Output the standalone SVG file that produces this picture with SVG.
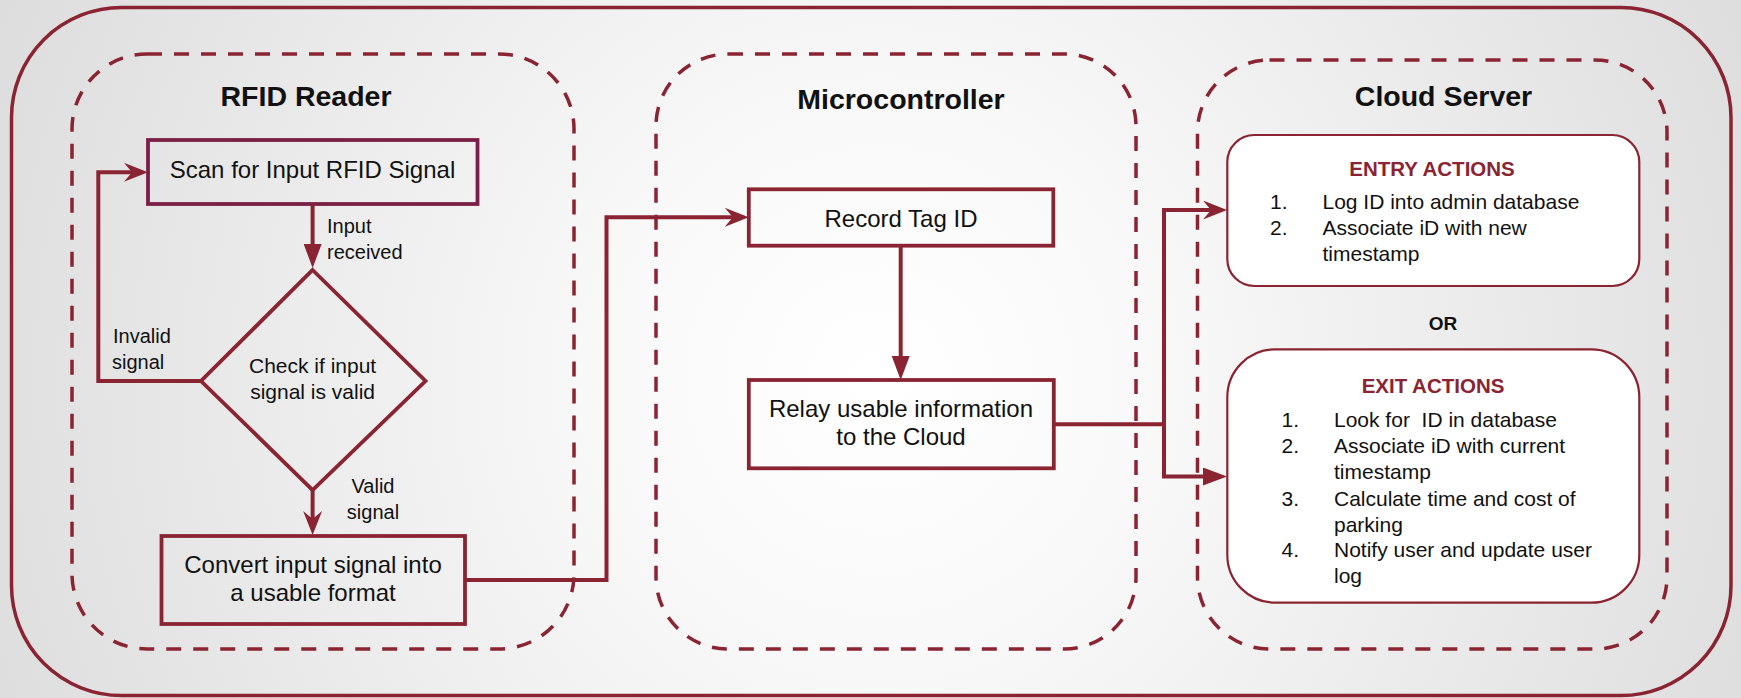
<svg xmlns="http://www.w3.org/2000/svg" width="1741" height="698" viewBox="0 0 1741 698">
<defs>
<radialGradient id="bg" cx="880" cy="380" r="950" gradientUnits="userSpaceOnUse">
<stop offset="0" stop-color="#ffffff"/>
<stop offset="0.3" stop-color="#f8f8f8"/>
<stop offset="1" stop-color="#dddddd"/>
</radialGradient>
<marker id="ac" viewBox="0 0 24 19" refX="14" refY="9.5" markerWidth="24" markerHeight="19" markerUnits="userSpaceOnUse" orient="auto">
<path d="M0,0 L24,9.5 L0,19 L8,9.5 Z" fill="#8a2432"/>
</marker>
<marker id="at" viewBox="0 0 24 18" refX="14" refY="9" markerWidth="24" markerHeight="18" markerUnits="userSpaceOnUse" orient="auto">
<path d="M0,0 L24,9 L0,18 Z" fill="#8a2432"/>
</marker>
<style>
text{font-family:"Liberation Sans",Arial,sans-serif;fill:#111;}
.title{font-size:28.5px;font-weight:bold;text-anchor:middle;}
.lbl{font-size:24px;text-anchor:middle;}
.sm{font-size:20px;}
.dia{font-size:21px;text-anchor:middle;}
.head{font-size:20.5px;font-weight:bold;text-anchor:middle;fill:#8a2432;}
.li{font-size:21px;}
.box{fill:none;stroke:#8a2432;stroke-width:3.8;}
.cont{fill:none;stroke:#8a2432;stroke-width:3.5;stroke-dasharray:15 12;}
.card{fill:#ffffff;stroke:#8a2432;stroke-width:2.2;}
.conn{fill:none;stroke:#8a2432;stroke-width:4;}
</style>
</defs>
<rect x="0" y="0" width="1741" height="698" fill="url(#bg)"/>
<rect id="frame" x="11.5" y="7.5" width="1719.5" height="688" rx="110" fill="none" stroke="#8a2432" stroke-width="3.5"/>

<g id="rfid-reader">
<rect class="cont" x="72" y="54" width="502" height="595" rx="75"/>
<text class="title" x="306" y="106">RFID Reader</text>
</g>
<g id="microcontroller">
<rect class="cont" x="656" y="54" width="480" height="595" rx="72"/>
<text class="title" x="901" y="109">Microcontroller</text>
</g>
<g id="cloud-server">
<rect class="cont" x="1197.5" y="60" width="469.5" height="589" rx="72"/>
<text class="title" x="1443.5" y="106">Cloud Server</text>
</g>

<g id="scan">
<rect class="box" x="148" y="140" width="329.5" height="64" style="stroke:#7a1f48"/>
<text class="lbl" x="312.5" y="178">Scan for Input RFID Signal</text>
</g>
<g id="check">
<polygon class="box" points="312.6,270 425.5,381 312.6,490 201,381"/>
<text class="dia" x="312.6" y="373">Check if input</text>
<text class="dia" x="312.6" y="399">signal is valid</text>
</g>
<g id="convert">
<rect class="box" x="161.5" y="536" width="303.5" height="88"/>
<text class="lbl" x="313" y="573">Convert input signal into</text>
<text class="lbl" x="313" y="601">a usable format</text>
</g>
<g id="record">
<rect class="box" x="748.8" y="189.3" width="304.5" height="56.4"/>
<text class="lbl" x="901" y="226.7">Record Tag ID</text>
</g>
<g id="relay">
<rect class="box" x="748.8" y="380" width="305" height="88.3"/>
<text class="lbl" x="901" y="417.3">Relay usable information</text>
<text class="lbl" x="901" y="445">to the Cloud</text>
</g>
<g id="entry">
<rect class="card" x="1227.3" y="135" width="412" height="151" rx="27"/>
<text class="head" x="1432" y="176">ENTRY ACTIONS</text>
<text class="li" x="1270" y="209.3">1.</text>
<text class="li" x="1322.5" y="209.3">Log ID into admin database</text>
<text class="li" x="1270" y="235">2.</text>
<text class="li" x="1322.5" y="235">Associate iD with new</text>
<text class="li" x="1322.5" y="260.7">timestamp</text>
</g>
<g id="or">
<text x="1443" y="330" style="font-size:19px;font-weight:bold;text-anchor:middle">OR</text>
</g>
<g id="exit">
<rect class="card" x="1227.3" y="349.3" width="412" height="253.4" rx="48"/>
<text class="head" x="1433" y="393.3">EXIT ACTIONS</text>
<text class="li" x="1281.6" y="427.3">1.</text>
<text class="li" x="1334" y="427.3" xml:space="preserve">Look for  ID in database</text>
<text class="li" x="1281.6" y="453.3">2.</text>
<text class="li" x="1334" y="453.3">Associate iD with current</text>
<text class="li" x="1334" y="479.3">timestamp</text>
<text class="li" x="1281.6" y="505.7">3.</text>
<text class="li" x="1334" y="505.7">Calculate time and cost of</text>
<text class="li" x="1334" y="531.7">parking</text>
<text class="li" x="1281.6" y="557.3">4.</text>
<text class="li" x="1334" y="557.3">Notify user and update user</text>
<text class="li" x="1334" y="583.3">log</text>
</g>

<g id="connectors">
<path class="conn" d="M201,381 H98.3 V172.3 H138" marker-end="url(#ac)"/>
<path class="conn" d="M312.6,204 V258" marker-end="url(#at)"/>
<path class="conn" d="M312.6,490 V525" marker-end="url(#ac)"/>
<path class="conn" d="M465,580 H606.5 V217.3 H738.8" marker-end="url(#ac)"/>
<path class="conn" d="M900.7,245.7 V370" marker-end="url(#at)"/>
<path class="conn" d="M1053.8,424.3 H1164 V210 H1217" marker-end="url(#ac)"/>
<path class="conn" d="M1164,422.3 V476.5 H1217" marker-end="url(#at)"/>
<text class="sm" x="327" y="233">Input</text>
<text class="sm" x="327" y="259">received</text>
<text class="sm" x="113" y="343">Invalid</text>
<text class="sm" x="112" y="369">signal</text>
<text class="sm" x="373" y="493" style="text-anchor:middle">Valid</text>
<text class="sm" x="373" y="519" style="text-anchor:middle">signal</text>
</g>
</svg>
